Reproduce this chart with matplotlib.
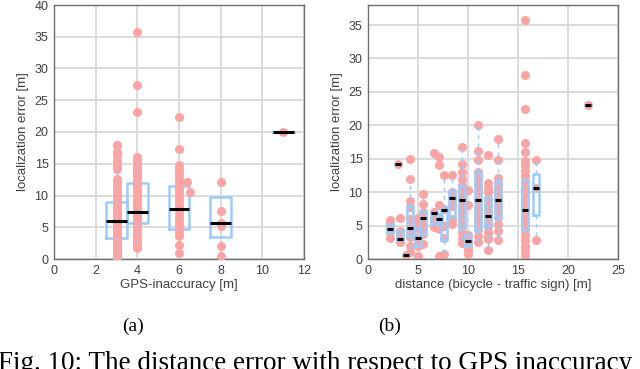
import matplotlib
matplotlib.use('Agg')
import matplotlib.pyplot as plt

plt.rcParams['font.family'] = ['Liberation Sans', 'DejaVu Sans']

# ---- (a) localization error vs GPS inaccuracy ----
gps_pos = [3, 4, 6, 8, 11]
gps_points = {
    3: [18.0, 17.9, 16.9, 16.6, 16.3, 15.6, 15.0, 14.6, 14.2, 12.6, 12.2, 11.6, 11.0,
        10.5, 10.0, 9.6, 9.2, 8.8, 8.4, 8.0, 7.6, 7.2, 6.8, 6.4, 6.0, 5.6, 5.2, 4.8,
        4.4, 4.0, 3.6, 3.2, 2.8, 2.4, 2.0, 1.6, 1.2, 0.8, 0.4, 0.1],
    4: [35.8, 27.4, 23.1, 16.0, 15.6, 15.0, 14.5, 14.0, 13.5, 13.0, 12.5, 12.0, 11.5,
        11.0, 10.5, 10.0, 9.5, 9.0, 8.5, 8.0, 7.5, 7.0, 6.5, 6.0, 5.5, 5.0, 4.5, 4.0,
        3.5, 3.0, 2.5, 2.0, 1.8],
    6: [22.4, 17.4, 14.8, 14.3, 13.8, 13.2, 12.6, 12.0, 11.4, 10.8, 10.2, 9.6, 9.0,
        8.4, 7.8, 7.2, 6.6, 6.0, 5.4, 4.8, 4.2, 3.6, 2.2, 0.9],
    6.4: [12.2],
    6.55: [10.5],
    8: [12.1, 7.6, 5.6, 5.2, 2.0, 0.4],
    11: [20.0],
}
gps_q1 = [3.3, 5.7, 4.7, 3.5, 20.0]
gps_med = [6.0, 7.4, 7.8, 5.6, 20.0]
gps_q3 = [9.0, 12.0, 11.5, 9.8, 20.0]
gps_wlo = [0.1, 1.8, 4.7, 3.5, 20.0]
gps_whi = [17.9, 16.0, 11.5, 9.8, 20.0]

# ---- (b) localization error vs distance to traffic sign ----
dist_pos = [2.2, 3.0, 3.2, 3.8, 4.2, 5.0, 5.5, 6.6, 7.1, 7.6, 8.4, 9.4, 10.0, 11.0,
            12.0, 13.0, 15.7, 16.8, 22.0]
dist_points = [
    [5.9, 5.2, 4.6, 4.0, 3.1],
    [14.2],
    [6.1, 4.2, 3.6, 3.0, 2.6],
    [0.6],
    [15.0, 12.0, 8.7, 7.8, 6.0, 4.6, 3.8, 3.3, 1.9, 1.0],
    [6.1, 5.5, 4.6, 3.2, 2.5, 1.9, 0.4],
    [9.7, 8.3, 7.0, 6.2, 5.0, 3.7, 2.2],
    [15.8, 7.0, 6.0, 5.4, 4.8],
    [15.3, 14.0, 8.1, 6.0, 5.5, 4.5, 0.5],
    [12.6, 7.5, 5.0, 3.1, 0.7],
    [12.5, 10.0, 9.2, 8.0, 6.0, 5.3],
    [16.8, 14.2, 13.0, 12.0, 11.0, 10.0, 9.4, 8.8, 8.0, 7.0, 6.0, 5.0, 4.0, 3.2, 2.4],
    [10.3, 8.1, 3.6, 2.7, 2.0, 1.4, 0.8],
    [20.0, 16.1, 14.8, 13.0, 12.0, 11.0, 10.0, 9.0, 8.8, 7.5, 6.5, 5.5, 4.5, 3.5, 2.5],
    [15.5, 11.3, 10.6, 10.0, 9.0, 8.0, 7.0, 6.5, 5.5, 5.0, 4.0, 3.3, 3.0, 1.4],
    [17.9, 14.8, 12.1, 11.2, 10.3, 9.5, 8.8, 8.0, 7.2, 6.3, 5.3, 4.2, 2.9],
    [35.8, 27.5, 22.5, 17.4, 16.0, 14.6, 14.0, 13.2, 12.4, 11.6, 10.8, 10.0, 9.2, 8.4,
     7.6, 6.8, 6.0, 5.2, 4.4, 3.6, 2.8, 2.0, 1.2, 0.6],
    [14.8, 10.6, 2.8],
    [23.1],
]
dist_q1 = [3.9, 14.2, 2.9, 0.6, 3.5, 1.9, 3.7, 5.3, 5.3, 2.9, 6.3, 4.6, 1.9, 4.3, 4.9, 6.2, 4.4, 6.6, 23.1]
dist_med = [4.45, 14.2, 3.0, 0.6, 4.6, 3.2, 6.2, 6.9, 6.0, 7.4, 9.2, 8.8, 2.7, 8.8, 6.5, 8.8, 7.4, 10.6, 23.1]
dist_q3 = [5.2, 14.2, 4.3, 0.6, 7.9, 4.6, 7.2, 7.1, 6.8, 7.6, 10.1, 10.9, 3.8, 13.0, 9.3, 11.7, 11.8, 12.7, 23.1]
dist_wlo = [3.9, 14.2, 2.9, 0.6, 1.0, 1.9, 3.7, 5.3, 5.3, 0.7, 6.3, 2.4, 1.9, 2.5, 1.4, 2.9, 0.6, 2.8, 23.1]
dist_whi = [5.2, 14.2, 4.3, 0.6, 12.0, 4.6, 9.7, 7.1, 6.8, 12.0, 12.5, 16.8, 3.8, 20.0, 9.3, 17.9, 17.4, 14.8, 23.1]

PINK = '#fca3a3'
BLUE = '#9ccbfb'
GRID = '#d9d9d9'
TXT = '#404040'


def make_stats(q1, med, q3, wlo, whi):
    return [dict(q1=a, med=b, q3=c, whislo=d, whishi=e, fliers=[])
            for a, b, c, d, e in zip(q1, med, q3, wlo, whi)]


def style_axis(ax, xlim, ylim, xticks, yticks, xlabel):
    ax.set_xlim(xlim)
    ax.set_ylim(ylim)
    ax.set_xticks(xticks)
    ax.set_yticks(yticks)
    ax.grid(True, color=GRID, linewidth=1.3, zorder=0)
    ax.set_axisbelow(True)
    ax.tick_params(length=0, labelsize=9, labelcolor=TXT, pad=4)
    for s in ax.spines.values():
        s.set_color('#6e6e6e')
        s.set_linewidth(1.0)
    ax.set_xlabel(xlabel, fontsize=9.5, color=TXT, labelpad=2)
    ax.set_ylabel('localization error [m]', fontsize=9.5, color=TXT, labelpad=4)


fig = plt.figure(figsize=(6.4, 3.69), dpi=100)

# (a)
ax1 = fig.add_axes([54 / 640, 110 / 369, 250 / 640, 254 / 369])
for x, vals in gps_points.items():
    ax1.plot([x] * len(vals), vals, 'o', color=PINK, markersize=6.5,
             markeredgewidth=0, zorder=3)
ax1.bxp(make_stats(gps_q1, gps_med, gps_q3, gps_wlo, gps_whi), positions=gps_pos,
        widths=1.0, showcaps=False, showfliers=False, manage_ticks=False,
        boxprops=dict(color=BLUE, linewidth=1.8, zorder=2),
        whiskerprops=dict(color=BLUE, linewidth=1.0, linestyle=(0, (3, 3)), zorder=4),
        medianprops=dict(color='black', linewidth=2.2, zorder=5))
style_axis(ax1, (0, 12), (0, 40), range(0, 13, 2), range(0, 41, 5), 'GPS-inaccuracy [m]')

# (b)
ax2 = fig.add_axes([368 / 640, 110 / 369, 250 / 640, 254 / 369])
for x, vals in zip(dist_pos, dist_points):
    ax2.plot([x] * len(vals), vals, 'o', color=PINK, markersize=6.5,
             markeredgewidth=0, zorder=2)
ax2.bxp(make_stats(dist_q1, dist_med, dist_q3, dist_wlo, dist_whi), positions=dist_pos,
        widths=0.6, showcaps=False, showfliers=False, manage_ticks=False,
        boxprops=dict(color=BLUE, linewidth=1.8, zorder=3),
        whiskerprops=dict(color=BLUE, linewidth=1.0, linestyle=(0, (3, 3)), zorder=3),
        medianprops=dict(color='black', linewidth=2.2, zorder=5))
style_axis(ax2, (0, 25), (0, 38), range(0, 26, 5), range(0, 36, 5),
           'distance (bicycle - traffic sign) [m]')

# captions
fig.text(133 / 640, 1 - 331 / 369, '(a)', fontsize=14, family='Liberation Serif',
         ha='center', va='baseline')
fig.text(390 / 640, 1 - 331 / 369, '(b)', fontsize=14, family='Liberation Serif',
         ha='center', va='baseline')
fig.text(-0.003, 1 - 370 / 369, 'Fig. 10: The distance error with respect to GPS inaccuracy',
         fontsize=19.5, family='Liberation Serif', ha='left', va='baseline')

fig.savefig('out.png', dpi=100)
